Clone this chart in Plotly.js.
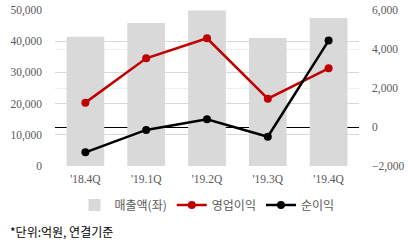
<!DOCTYPE html>
<html><head><meta charset="utf-8">
<script src="https://cdn.plot.ly/plotly-3.0.1.min.js"></script>
<style>html,body{margin:0;padding:0;background:#fff}#c{width:414px;height:240px}</style>
</head><body><div id="c"></div>
<script>
const categories = ["'18.4Q", "'19.1Q", "'19.2Q", "'19.3Q", "'19.4Q"];
const sales = [41400, 45800, 49800, 41000, 47400];
const opProfit = [1250, 3520, 4550, 1450, 3010];
const netProfit = [-1300, -150, 400, -500, 4430];
const seriesNames = ["매출액(좌)", "영업이익", "순이익"];
const footnote = "*단위:억원, 연결기준";

const tickFont = {family: "Liberation Serif, serif", size: 11.5, color: "#595959"};
const data = [
  {type: "bar", x: categories, y: sales, name: seriesNames[0], marker: {color: "#d9d9d9"}, width: 0.62, yaxis: "y"},
  {type: "scatter", mode: "lines+markers", x: categories, y: opProfit, name: seriesNames[1], yaxis: "y2",
   line: {color: "#c00000", width: 2.5}, marker: {color: "#c00000", size: 8}},
  {type: "scatter", mode: "lines+markers", x: categories, y: netProfit, name: seriesNames[2], yaxis: "y2",
   line: {color: "#000000", width: 2.5}, marker: {color: "#000000", size: 8}}
];
const layout = {
  width: 414, height: 240,
  margin: {l: 55, r: 55, t: 10, b: 74, autoexpand: false},
  paper_bgcolor: "#fff", plot_bgcolor: "#fff",
  showlegend: true,
  legend: {orientation: "h", x: 0.5, xanchor: "center", yref: "container", y: 0.146, yanchor: "middle",
    font: {family: "Noto Sans CJK KR", size: 12, color: "#595959"}, traceorder: "normal", itemwidth: 30},
  xaxis: {tickfont: tickFont, showgrid: false, zeroline: false, showline: false, ticks: "", ticklabelstandoff: 4},
  yaxis: {range: [0, 50000], tickvals: [0, 10000, 20000, 30000, 40000, 50000], tickformat: ",d",
    tickfont: tickFont, gridcolor: "#d9d9d9", gridwidth: 1, zeroline: false, showline: false, ticks: "", ticklabelstandoff: 12},
  yaxis2: {overlaying: "y", side: "right", range: [-2000, 6000], tickvals: [-2000, 0, 2000, 4000, 6000], tickformat: ",d",
    tickfont: tickFont, gridcolor: "#eeeeee", gridwidth: 1, showgrid: true, zeroline: true, zerolinecolor: "#000", zerolinewidth: 1,
    showline: false, ticks: "", ticklabelstandoff: 12},
  annotations: [{text: footnote, xref: "paper", yref: "paper", x: -0.155, y: -0.423, xanchor: "left", yanchor: "middle",
    showarrow: false, font: {family: "Noto Sans CJK KR", size: 12, color: "#000"}}]
};
Plotly.newPlot("c", data, layout, {displayModeBar: false, staticPlot: true});
</script></body></html>
